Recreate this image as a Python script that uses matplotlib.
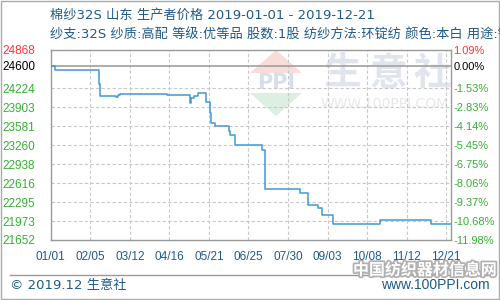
import numpy as np
import pandas as pd
import matplotlib
matplotlib.use("Agg")
import matplotlib.pyplot as plt
import matplotlib.patheffects as pe
from matplotlib.patches import Polygon, Rectangle

plt.rcParams['font.family'] = ['Noto Sans CJK SC', 'DejaVu Sans']

# 数据
fechas = ['2019-01-01', '2019-01-05', '2019-02-13', '2019-02-14', '2019-02-28', '2019-03-02',
          '2019-03-03', '2019-04-14', '2019-05-04', '2019-05-05', '2019-05-08', '2019-05-11',
          '2019-05-18', '2019-05-20', '2019-05-22', '2019-05-23', '2019-05-26', '2019-06-08',
          '2019-06-09', '2019-06-13', '2019-07-07', '2019-07-10', '2019-08-10', '2019-08-17',
          '2019-08-26', '2019-08-29', '2019-09-08', '2019-10-19', '2019-12-04', '2019-12-21']
precios = [24600, 24530, 24300, 24089, 24068, 24100,
           24123, 24106, 23976, 24050, 24089, 24135,
           23993, 23980, 23807, 23627, 23582, 23502,
           23424, 23255, 23176, 22510, 22443, 22245,
           22189, 22075, 21918, 21991, 21923, 21923]

precio_base = 24600
ticks_y = [24868, 24600, 24224, 23903, 23581, 23260, 22938, 22616, 22295, 21973, 21652]
etiquetas_pct = ['1.09%', '0.00%', '-1.53%', '-2.83%', '-4.14%', '-5.45%',
                 '-6.75%', '-8.06%', '-9.37%', '-10.68%', '-11.98%']
ticks_x = ['2019-01-01', '2019-02-05', '2019-03-12', '2019-04-16', '2019-05-21', '2019-06-25',
           '2019-07-30', '2019-09-03', '2019-10-08', '2019-11-12', '2019-12-17']
etiquetas_x = ['01/01', '02/05', '03/12', '04/16', '05/21', '06/25',
               '07/30', '09/03', '10/08', '11/12', '12/21']

titulo = '棉纱32S 山东 生产者价格 2019-01-01 - 2019-12-21'
subtitulo = '纱支:32S 纱质:高配 等级:优等品 股数:1股 纺纱方法:环锭纺 颜色:本白 用途:针织'

azul = '#1f5a8a'
verde = '#33b033'
rojo = '#ff3333'
gris = '#999999'
fuente_num = 'Liberation Sans'
fuente_txt = ['DejaVu Sans', 'Noto Sans CJK SC']

fechas = pd.to_datetime(fechas)
ticks_x = pd.to_datetime(ticks_x)

fig = plt.figure(figsize=(5, 3), dpi=100)

# capa de fondo en pixeles (marca de agua, pie, borde)
bg = fig.add_axes([0, 0, 1, 1], zorder=0)
bg.set_xlim(0, 500)
bg.set_ylim(300, 0)
bg.axis('off')

bg.add_patch(Rectangle((0.5, 0.5), 498, 298, fill=False, edgecolor='#aaaaaa', lw=1))
bg.add_patch(Polygon([(276, 50), (250, 73), (302, 73)], closed=True, color='#f8dcd8', lw=0))
bg.add_patch(Polygon([(250, 93), (302, 93), (276, 116)], closed=True, color='#dcefe0', lw=0))
bg.text(276, 83, 'PPI', color='#d8deec', fontsize=15, fontweight='bold', ha='center', va='center',
        family='DejaVu Sans')
for cx, ch in zip([343, 388, 432], '生意社'):
    bg.text(cx, 73, ch, color='#e0e4ed', fontsize=27, fontweight='bold', ha='center', va='center')
bg.text(385, 104, 'WWW.100PPI.COM', color='#e8e8e8', fontsize=10, ha='center', va='center',
        family='DejaVu Sans')

bg.text(50, 15, titulo, color=azul, fontsize=9.5, ha='left', va='center', family=fuente_txt)
bg.text(50, 35, subtitulo, color=azul, fontsize=9.5, ha='left', va='center', family=fuente_txt)

bg.plot([10, 490], [275, 275], color=gris, lw=1)
bg.text(10, 285, '© 2019.12 生意社', color=azul, fontsize=9.5, ha='left', va='center',
        family=fuente_txt)
bg.text(490, 285, 'www.100PPI.com', color=azul, fontsize=10, ha='right', va='center',
        family=fuente_num)
bg.text(425, 270, '中国纺织器材信息网', color='white', fontsize=11.5, fontweight='bold',
        ha='center', va='center',
        path_effects=[pe.withStroke(linewidth=2.5, foreground='#b0b0b0')])

# grafico principal
ax = fig.add_axes([50.7 / 500, 60 / 300, 400 / 500, 190 / 300], zorder=1)
ax.patch.set_alpha(0)
ax.step(fechas, precios, where='post', color='#3d9ad6', lw=1.1, zorder=3)

ax.set_ylim(ticks_y[-1], ticks_y[0])
ax.set_xlim(fechas[0], fechas[-1])

for v in ticks_y[2:-1]:
    ax.axhline(v, color='#c8c8c8', lw=0.8, ls=(0, (3, 2)), zorder=1)
for d in ticks_x[1:]:
    ax.axvline(d, color='#c8c8c8', lw=0.8, ls=(0, (3, 2)), zorder=1)
ax.axhline(precio_base, color='#a0a0a0', lw=1.2, zorder=2)

for s in ax.spines.values():
    s.set_color(gris)
    s.set_linewidth(1.0)

ax.set_yticks(ticks_y)
ax.set_yticklabels([str(v) for v in ticks_y], family=fuente_num)
ax.tick_params(axis='y', length=0, pad=11, labelsize=8.5)
colores_y = [rojo, 'black'] + [verde] * (len(ticks_y) - 2)
for lab, c in zip(ax.get_yticklabels(), colores_y):
    lab.set_color(c)

ax.set_xticks(ticks_x)
ax.set_xticklabels(etiquetas_x, family=fuente_num)
ax.tick_params(axis='x', length=0, pad=8, labelsize=8.5, labelcolor=azul)

ax2 = ax.twinx()
ax2.set_ylim(ax.get_ylim())
ax2.set_yticks(ticks_y)
ax2.set_yticklabels(etiquetas_pct, family=fuente_num)
ax2.tick_params(axis='y', length=0, pad=2, labelsize=8)
for lab, c in zip(ax2.get_yticklabels(), colores_y):
    lab.set_color(c)
for s in ax2.spines.values():
    s.set_visible(False)

fig.savefig('out.png', dpi=100)
